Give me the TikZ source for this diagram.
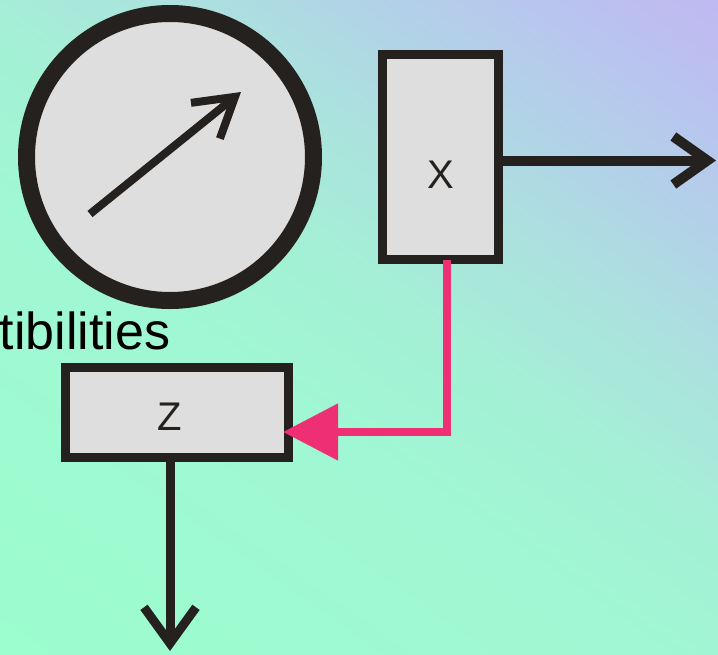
\documentclass[tikz,border=0pt]{standalone}
\usepackage{fontspec}
\setmainfont{Liberation Sans}
\usetikzlibrary{arrows.meta}
\definecolor{g0}{HTML}{9CFDCE}
\definecolor{g1}{HTML}{A0F7D3}
\definecolor{g2}{HTML}{A4EFD6}
\definecolor{g3}{HTML}{AAE4DC}
\definecolor{g4}{HTML}{B0D6E5}
\definecolor{g5}{HTML}{B8C6EE}
\definecolor{g6}{HTML}{C0B8F2}
\definecolor{ink}{HTML}{24211E}
\definecolor{boxfill}{HTML}{DEDEDE}
\definecolor{pinkline}{HTML}{EE2F73}
\pgfdeclarehorizontalshading{bgshade}{1000bp}{color(0bp)=(g0); color(26bp)=(g0); color(405bp)=(g1); color(547bp)=(g2); color(642bp)=(g3); color(746bp)=(g4); color(860bp)=(g5); color(974bp)=(g6); color(1000bp)=(g6)}
\tikzset{
  boxnode/.style={draw=ink, fill=boxfill, line width=9pt, inner sep=0pt, outer sep=0pt},
  gaugenode/.style={circle, draw=ink, fill=boxfill, line width=17pt, inner sep=0pt, outer sep=0pt},
  lbl/.style={text=ink, inner sep=0pt, font=\fontsize{40}{48}\selectfont},
  blackarrow/.style={draw=ink, line cap=butt},
  pinkarrow/.style={draw=pinkline, line width=8pt, line join=miter, -{Triangle[length=55pt,width=55pt]}}
}
\begin{document}
\begin{tikzpicture}[x=1pt,y=-1pt]
\useasboundingbox (0,0) rectangle (718,654);
\begin{scope}
\clip (0,0) rectangle (718,654);
\node[inner sep=0pt, outer sep=0pt, rotate=55] (bg) at (359,327) {\pgfuseshading{bgshade}};

% gauge
\node[gaugenode, minimum size=287pt] (G) at (170,157) {};
\coordinate (needleA) at (90,214);
\coordinate (needleB) at (241,92);
\draw[blackarrow, line width=8pt, -{Straight Barb[length=38pt,width=46pt]}] (needleA) -- (needleB);

% box X
\node[boxnode, minimum width=115.5pt, minimum height=205pt] (X) at (440.25,157) {};
\node[lbl] (Xl) at (441,175) {X};
\coordinate (rtip) at (716,160.5);
\draw[blackarrow, line width=10pt, -{Straight Barb[length=34pt,width=48pt]}] ([yshift=-3.5pt]X.east) -- (rtip);

% caption
\node[anchor=base east, inner sep=0pt, font=\fontsize{52}{60}\selectfont] (cap) at (170.5,349) {tibilities};

% box Z
\node[boxnode, minimum width=223pt, minimum height=90pt] (Z) at (176.5,412) {};
\node[lbl] (Zl) at (170,417) {Z};
\coordinate (dtip) at (170,651);
\draw[blackarrow, line width=9pt, -{Straight Barb[length=36pt,width=52pt]}] ([xshift=-6.5pt]Z.south) -- (dtip);

% pink connector
\draw[pinkarrow] ([xshift=6.5pt]X.south) |- ([xshift=-5pt,yshift=-20pt]Z.east);
\end{scope}
\end{tikzpicture}
\end{document}
